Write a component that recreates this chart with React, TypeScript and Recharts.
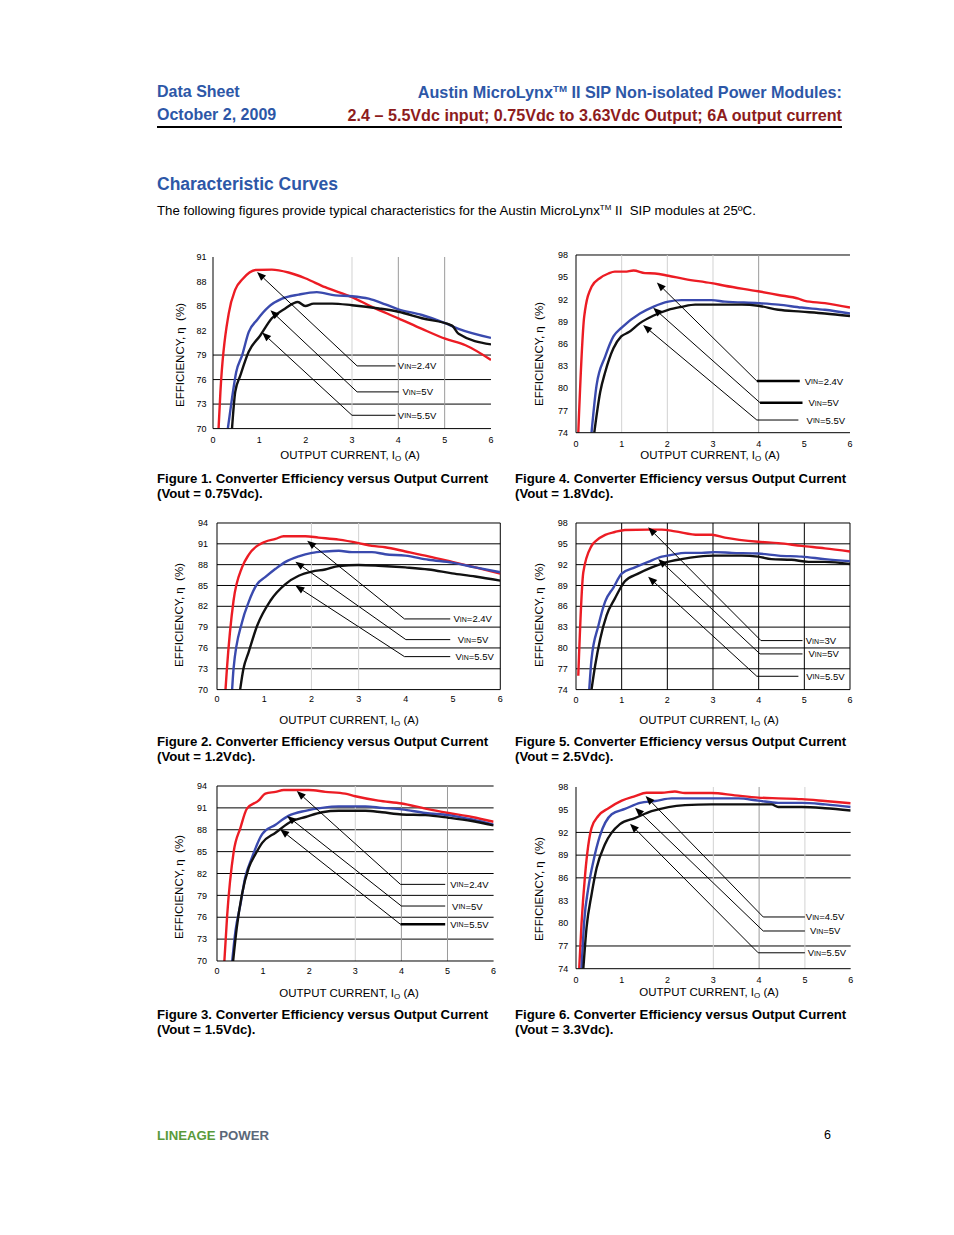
import React from 'react';
import { LineChart, Line, XAxis, YAxis, CartesianGrid, ReferenceLine, ReferenceDot } from 'recharts';

type Pt = [number, number];
interface Ann { from: Pt; tip: Pt; end: number; labelX: number; text: string; thick?: boolean }

const FONT = '"Liberation Sans", Arial, Helvetica, sans-serif';
const RED = '#ec1c24';
const BLUE = '#3a4aae';
const BLACK = '#111111';

const xTicks = [0, 1, 2, 3, 4, 5, 6];
const yTicks70to91 = [70, 73, 76, 79, 82, 85, 88, 91];
const yTicks70to94 = [70, 73, 76, 79, 82, 85, 88, 91, 94];
const yTicks74to98 = [74, 77, 80, 83, 86, 89, 92, 95, 98];

// ---------- Figure 1 (Vout = 0.75Vdc) ----------
const fig1Vin24: Pt[] = [[0.12, 70], [0.16, 74.5], [0.34, 84.1], [0.48, 87.0], [0.64, 88.3], [0.92, 89.4], [1.27, 89.45], [1.63, 89.1], [1.99, 88.4], [2.42, 87.3], [3.0, 86.1], [3.43, 84.9], [4.0, 83.5], [4.51, 82.2], [5.01, 81.0], [5.45, 80.2], [6.0, 78.4]];
const fig1Vin5: Pt[] = [[0.32, 70], [0.41, 73.7], [0.5, 76.9], [0.63, 79.0], [0.77, 81.8], [0.95, 83.3], [1.2, 84.9], [1.49, 85.9], [1.85, 86.4], [2.24, 86.7], [2.64, 86.3], [3.0, 86.2], [3.36, 85.9], [3.72, 85.2], [4.0, 84.6], [4.51, 83.9], [5.01, 82.9], [5.3, 82.2], [6.0, 81.1]];
const fig1Vin55: Pt[] = [[0.41, 70], [0.48, 74.5], [0.59, 76.5], [0.77, 79.4], [1.02, 81.4], [1.27, 83.5], [1.56, 84.7], [1.83, 85.5], [1.99, 85.0], [2.17, 85.3], [2.57, 85.3], [3.0, 85.1], [3.58, 84.7], [4.0, 84.3], [4.51, 83.5], [5.16, 82.6], [5.3, 81.6], [6.0, 80.3]];
const fig1Notes: Ann[] = [
  { from: [3.11, 77.67], tip: [0.95, 89.17], end: 3.94, labelX: 3.99, text: '2.4V' },
  { from: [3.11, 74.49], tip: [1.24, 84.48], end: 4.01, labelX: 4.09, text: '5V' },
  { from: [3.0, 71.63], tip: [1.06, 81.75], end: 3.94, labelX: 3.99, text: '5.5V' },
];

// ---------- Figure 4 (Vout = 1.8Vdc) ----------
const fig4Vin24: Pt[] = [[0.05, 74], [0.18, 89.7], [0.34, 93.7], [0.53, 94.9], [0.71, 95.5], [0.85, 95.75], [1.07, 95.75], [1.26, 95.9], [1.51, 95.55], [1.73, 95.5], [2.02, 95.2], [2.39, 94.75], [2.97, 94.2], [3.26, 93.85], [3.99, 93.1], [4.43, 92.6], [4.87, 92.1], [5.01, 91.8], [5.45, 91.5], [6.0, 90.9]];
const fig4Vin5: Pt[] = [[0.34, 74], [0.45, 80.4], [0.64, 84.3], [0.82, 87.0], [1.0, 88.2], [1.4, 90.1], [1.69, 91.0], [2.02, 91.7], [2.31, 91.9], [2.97, 91.9], [3.26, 91.7], [3.99, 91.5], [4.43, 91.3], [4.94, 90.9], [5.45, 90.6], [6.0, 90.1]];
const fig4Vin55: Pt[] = [[0.4, 74], [0.53, 79.5], [0.64, 82.2], [0.82, 85.4], [0.99, 87.0], [1.15, 87.55], [1.4, 88.8], [1.69, 89.8], [2.02, 90.6], [2.31, 91.0], [2.61, 91.3], [2.97, 91.3], [3.63, 91.3], [3.99, 91.15], [4.43, 90.6], [4.94, 90.35], [5.45, 90.1], [6.0, 89.75]];
const fig4Notes: Ann[] = [
  { from: [3.96, 80.98], tip: [1.77, 94.3], end: 4.9, labelX: 5.01, text: '2.4V', thick: true },
  { from: [4.03, 78.05], tip: [1.69, 90.88], end: 4.96, labelX: 5.09, text: '5V', thick: true },
  { from: [3.96, 75.71], tip: [1.47, 88.54], end: 4.87, labelX: 5.05, text: '5.5V' },
];

// ---------- Figure 2 (Vout = 1.2Vdc) ----------
const fig2Vin24: Pt[] = [[0.18, 70], [0.21, 73], [0.35, 82.8], [0.53, 87.6], [0.67, 89.4], [1.02, 91.3], [1.24, 91.7], [1.41, 92.1], [1.87, 92.1], [2.15, 91.9], [2.58, 91.6], [3.0, 91.1], [3.28, 90.7], [3.56, 90.5], [3.99, 89.9], [4.48, 89.2], [4.98, 88.4], [5.47, 87.6], [6.0, 86.7]];
const fig2Vin5: Pt[] = [[0.32, 70], [0.35, 73], [0.53, 79.7], [0.67, 82.6], [0.85, 85.2], [1.02, 86.2], [1.24, 87.4], [1.45, 88.4], [1.73, 89.2], [2.01, 89.7], [2.29, 89.9], [2.58, 90.0], [2.86, 89.8], [3.28, 89.8], [3.56, 89.5], [3.99, 89.3], [4.48, 88.7], [4.98, 88.3], [5.47, 87.6], [6.0, 86.9]];
const fig2Vin55: Pt[] = [[0.49, 70], [0.56, 73], [0.67, 75.4], [0.85, 79.2], [1.13, 82.8], [1.45, 85.2], [1.73, 86.4], [2.01, 87.0], [2.29, 87.3], [2.58, 87.8], [3.0, 87.95], [3.42, 87.85], [3.99, 87.6], [4.48, 87.3], [4.98, 86.75], [5.47, 86.3], [6.0, 85.7]];
const fig2Notes: Ann[] = [
  { from: [3.97, 80.18], tip: [1.91, 91.46], end: 4.94, labelX: 5.01, text: '2.4V' },
  { from: [4.0, 77.2], tip: [1.66, 88.43], end: 4.94, labelX: 5.1, text: '5V' },
  { from: [3.97, 74.75], tip: [1.66, 84.98], end: 4.94, labelX: 5.05, text: '5.5V' },
];

// ---------- Figure 5 (Vout = 2.5Vdc) ----------
const fig5Vin3: Pt[] = [[0.05, 76], [0.16, 90.9], [0.34, 94.7], [0.45, 95.5], [0.64, 96.3], [0.85, 96.7], [1.07, 97.0], [1.58, 97.05], [1.88, 97.05], [2.17, 96.8], [2.68, 96.3], [2.97, 96.3], [3.26, 95.9], [3.99, 95.3], [4.43, 95.1], [4.94, 94.7], [5.45, 94.35], [6.0, 93.9]];
const fig5Vin5: Pt[] = [[0.29, 74], [0.34, 78.4], [0.49, 83.2], [0.64, 86.7], [0.82, 88.7], [1.0, 90.7], [1.29, 91.6], [1.58, 92.4], [1.88, 93.15], [2.09, 93.4], [2.39, 93.7], [2.75, 93.7], [3.04, 93.8], [3.41, 93.7], [3.99, 93.6], [4.43, 93.3], [4.94, 93.15], [5.45, 92.8], [6.0, 92.5]];
const fig5Vin55: Pt[] = [[0.34, 74], [0.42, 77.5], [0.53, 81.3], [0.67, 84.7], [0.85, 87.1], [1.07, 89.6], [1.36, 90.7], [1.66, 91.6], [1.95, 92.3], [2.31, 92.8], [2.68, 93.15], [3.04, 93.3], [3.63, 93.3], [3.99, 93.15], [4.28, 92.8], [4.72, 92.7], [5.09, 92.4], [5.45, 92.4], [6.0, 92.1]];
const fig5Notes: Ann[] = [
  { from: [4.05, 81.06], tip: [1.58, 97.38], end: 4.96, labelX: 5.03, text: '3V' },
  { from: [4.03, 79.14], tip: [1.8, 92.82], end: 4.96, labelX: 5.09, text: '5V' },
  { from: [3.96, 75.92], tip: [1.58, 90.27], end: 4.87, labelX: 5.04, text: '5.5V' },
];

// ---------- Figure 3 (Vout = 1.5Vdc) ----------
const fig3Vin24: Pt[] = [[0.16, 70], [0.22, 76.2], [0.36, 84.9], [0.51, 88.3], [0.65, 90.9], [0.9, 92.0], [1.05, 92.95], [1.27, 93.2], [1.45, 93.45], [1.99, 93.45], [2.35, 93.2], [2.78, 92.95], [3.0, 92.6], [3.5, 92.0], [4.01, 91.6], [4.52, 90.9], [5.02, 90.3], [5.53, 89.75], [6.0, 89.1]];
const fig3Vin5: Pt[] = [[0.33, 70], [0.4, 74.1], [0.51, 77.8], [0.61, 81.4], [0.76, 84.2], [0.98, 87.4], [1.27, 88.7], [1.55, 89.9], [1.92, 90.6], [2.28, 91.0], [2.64, 91.2], [3.22, 91.2], [3.58, 91.0], [4.01, 90.8], [4.52, 90.3], [5.02, 90.0], [5.53, 89.4], [6.0, 88.7]];
const fig3Vin55: Pt[] = [[0.35, 70], [0.43, 74.6], [0.54, 79.1], [0.69, 82.8], [0.83, 84.6], [0.98, 86.2], [1.27, 87.6], [1.63, 89.2], [1.92, 89.75], [2.28, 90.4], [2.64, 90.6], [3.22, 90.6], [3.58, 90.4], [4.01, 90.1], [4.52, 90.0], [5.02, 89.65], [5.53, 89.2], [6.0, 88.6]];
const fig3Notes: Ann[] = [
  { from: [3.98, 80.51], tip: [1.73, 93.3], end: 4.95, labelX: 5.06, text: '2.4V' },
  { from: [4.0, 77.54], tip: [1.52, 89.9], end: 4.95, labelX: 5.1, text: '5V' },
  { from: [3.98, 75.03], tip: [1.37, 88.06], end: 4.95, labelX: 5.06, text: '5.5V', thick: true },
];

// ---------- Figure 6 (Vout = 3.3Vdc) ----------
const fig6Vin45: Pt[] = [[0.07, 74], [0.12, 79.9], [0.2, 86.5], [0.34, 92.6], [0.49, 94.2], [0.71, 95.2], [1.0, 96.2], [1.29, 96.8], [1.54, 97.25], [1.87, 97.25], [2.16, 97.4], [2.38, 97.2], [2.96, 97.2], [3.47, 96.9], [3.98, 96.6], [4.42, 96.5], [4.93, 96.4], [5.44, 96.15], [6.0, 95.85]];
const fig6Vin5: Pt[] = [[0.12, 74], [0.18, 80.3], [0.27, 84.7], [0.38, 88.2], [0.52, 91.5], [0.78, 94.4], [1.07, 95.1], [1.4, 95.9], [1.73, 96.15], [2.09, 96.5], [2.45, 96.5], [2.96, 96.5], [3.55, 96.5], [3.98, 96.2], [4.42, 95.9], [4.93, 95.9], [5.44, 95.7], [6.0, 95.35]];
const fig6Vin55: Pt[] = [[0.16, 74], [0.23, 79.4], [0.34, 83.8], [0.45, 87.3], [0.63, 90.4], [0.96, 93.1], [1.29, 93.9], [1.65, 94.8], [2.02, 95.35], [2.38, 95.6], [2.96, 95.7], [4.27, 95.7], [4.42, 95.35], [4.93, 95.35], [5.44, 95.2], [6.0, 94.9]];
const fig6Notes: Ann[] = [
  { from: [4.09, 80.83], tip: [1.52, 96.8], end: 5.0, labelX: 5.02, text: '4.5V' },
  { from: [4.09, 78.98], tip: [1.29, 95.27], end: 5.0, labelX: 5.11, text: '5V' },
  { from: [3.98, 76.1], tip: [1.18, 93.15], end: 5.0, labelX: 5.06, text: '5.5V' },
];

const toObj = (pts: Pt[]) => pts.map(([x, y]) => ({ x, y }));

function Arrow(props: any) {
  const { x1, y1, x2, y2 } = props;
  const dx = x2 - x1;
  const dy = y2 - y1;
  const len = Math.hypot(dx, dy) || 1;
  const ux = dx / len;
  const uy = dy / len;
  const L = 9;
  const W = 3.6;
  const bx = x2 - ux * L;
  const by = y2 - uy * L;
  const pts = `${x2},${y2} ${bx - uy * W},${by + ux * W} ${bx + uy * W},${by - ux * W}`;
  return (
    <g>
      <line x1={x1} y1={y1} x2={bx} y2={by} stroke="#000" strokeWidth={1} />
      <polygon points={pts} fill="#000" />
    </g>
  );
}

interface ChartProps {
  left: number; top: number; w: number; h: number;
  yMin: number; yMax: number; yTicks: number[];
  series: { pts: Pt[]; color: string }[];
  hGrid: number[]; vLight: number[]; vMid: number[]; vDark: number[];
  notes: Ann[];
  yGap: number; xGap: number;
}

function EffChart(p: ChartProps) {
  const ML = 45, MT = 8, MR = 16, XH = 22;
  const W = p.w + ML + MR;
  const H = p.h + MT + XH;
  const tickStyle = { fontSize: 9, fill: '#000', fontFamily: FONT };
  return (
    <div style={{ position: 'absolute', left: p.left - ML, top: p.top - MT }}>
      <LineChart width={W} height={H} margin={{ top: MT, right: MR, bottom: 0, left: 0 }}>
        {p.hGrid.length > 0 && (
          <CartesianGrid vertical={false} horizontalValues={p.hGrid} stroke="#000" strokeWidth={1} />
        )}
        {p.vLight.length > 0 && (
          <CartesianGrid horizontal={false} verticalValues={p.vLight} stroke="#d2d2d2" strokeWidth={1} />
        )}
        {p.vMid.length > 0 && (
          <CartesianGrid horizontal={false} verticalValues={p.vMid} stroke="#9a9a9a" strokeWidth={1} />
        )}
        {p.vDark.length > 0 && (
          <CartesianGrid horizontal={false} verticalValues={p.vDark} stroke="#000" strokeWidth={1} />
        )}
        <XAxis type="number" dataKey="x" domain={[0, 6]} ticks={xTicks} allowDataOverflow height={XH}
          tickLine={false} tickSize={p.xGap} tickMargin={0} interval={0}
          axisLine={{ stroke: '#000', strokeWidth: 1 }} tick={tickStyle} />
        <YAxis type="number" domain={[p.yMin, p.yMax]} ticks={p.yTicks} allowDataOverflow width={ML}
          tickLine={false} tickSize={p.yGap - 2} tickMargin={2} interval={0}
          axisLine={{ stroke: '#000', strokeWidth: 1 }} tick={tickStyle} />
        {p.series.map((s, i) => (
          <Line key={i} data={toObj(s.pts)} dataKey="y" stroke={s.color} strokeWidth={2.4}
            dot={false} activeDot={false} type="monotone" isAnimationActive={false} />
        ))}
        {p.notes.map((a, i) => (
          <React.Fragment key={'n' + i}>
            <ReferenceLine segment={[{ x: a.from[0], y: a.from[1] }, { x: a.tip[0], y: a.tip[1] }]}
              ifOverflow="visible" shape={Arrow} />
            <ReferenceLine segment={[{ x: a.from[0], y: a.from[1] }, { x: a.end, y: a.from[1] }]}
              ifOverflow="visible" stroke="#000" strokeWidth={a.thick ? 2.6 : 1} />
            <ReferenceDot x={a.labelX} y={a.from[1]} r={0} ifOverflow="visible"
              shape={(d: any) => (
                <text x={d.cx} y={d.cy} dominantBaseline="central" fontSize={9.5} fontFamily={FONT} fill="#000">
                  V<tspan fontSize={7}>IN</tspan>={a.text}
                </text>
              )} />
          </React.Fragment>
        ))}
      </LineChart>
    </div>
  );
}

const abs = (s: React.CSSProperties): React.CSSProperties => ({ position: 'absolute', whiteSpace: 'nowrap', fontFamily: FONT, ...s });

function YTitle({ cx, cy }: { cx: number; cy: number }) {
  return (
    <div style={abs({ left: cx, top: cy, fontSize: 11.5, lineHeight: '14px', transform: 'translate(-50%, -50%) rotate(-90deg)', color: '#000' })}>
      EFFICIENCY, η{'\u00a0 '}(%)
    </div>
  );
}

function XTitle({ cx, cy }: { cx: number; cy: number }) {
  return (
    <div style={abs({ left: cx, top: cy, fontSize: 11.5, lineHeight: '14px', transform: 'translate(-50%, -50%)', color: '#000' })}>
      OUTPUT CURRENT, I<span style={{ fontSize: 8, position: 'relative', top: 2 }}>O</span> (A)
    </div>
  );
}

function Caption({ x, y, n, vout }: { x: number; y: number; n: number; vout: string }) {
  return (
    <div style={abs({ left: x, top: y, fontSize: 13.2, lineHeight: '15px', fontWeight: 'bold', color: '#000' })}>
      Figure {n}. Converter Efficiency versus Output Current<br />(Vout = {vout}).
    </div>
  );
}

const Sup = ({ children }: { children: React.ReactNode }) => (
  <span style={{ fontSize: '0.6em', position: 'relative', top: '-0.6em' }}>{children}</span>
);

export default function App() {
  const headBlue = '#2d57a7';
  const headRed = '#8d1c1c';
  return (
    <div style={{ position: 'absolute', left: 0, top: 0, width: 954, height: 1235, background: '#fff', overflow: 'hidden' }}>
      <div style={abs({ left: 157, top: 83, fontSize: 16, lineHeight: '18px', fontWeight: 'bold', color: headBlue })}>Data Sheet</div>
      <div style={abs({ left: 157, top: 106, fontSize: 16, lineHeight: '18px', fontWeight: 'bold', color: headBlue })}>October 2, 2009</div>
      <div style={abs({ right: 112, top: 83, fontSize: 16.2, lineHeight: '18px', fontWeight: 'bold', color: headBlue, textAlign: 'right' })}>
        Austin MicroLynx<Sup>TM</Sup> II SIP Non-isolated Power Modules:
      </div>
      <div style={abs({ right: 112, top: 106, fontSize: 16.15, lineHeight: '18px', fontWeight: 'bold', color: headRed, textAlign: 'right' })}>
        2.4 – 5.5Vdc input; 0.75Vdc to 3.63Vdc Output; 6A output current
      </div>
      <div style={{ position: 'absolute', left: 157, top: 126, width: 685, height: 2, background: '#000' }} />
      <div style={abs({ left: 157, top: 174, fontSize: 17.5, lineHeight: '20px', fontWeight: 'bold', color: headBlue })}>Characteristic Curves</div>
      <div style={abs({ left: 157, top: 202.5, fontSize: 13.25, lineHeight: '15px', color: '#000' })}>
        The following figures provide typical characteristics for the Austin MicroLynx<Sup>TM</Sup> II{'\u00a0 '}SIP modules at 25ºC.
      </div>

      <EffChart left={212.7} top={256.7} w={278} h={171.6} yMin={70} yMax={91} yTicks={yTicks70to91}
        series={[{ pts: fig1Vin24, color: RED }, { pts: fig1Vin5, color: BLUE }, { pts: fig1Vin55, color: BLACK }]}
        hGrid={[73, 76, 79]} vLight={[3]} vMid={[4, 5]} vDark={[]} notes={fig1Notes} yGap={6.5} xGap={8.5} />
      <YTitle cx={180} cy={355} />
      <XTitle cx={350} cy={456} />
      <Caption x={157} y={470.5} n={1} vout="0.75Vdc" />

      <EffChart left={576} top={255} w={274} h={177.7} yMin={74} yMax={98} yTicks={yTicks74to98}
        series={[{ pts: fig4Vin24, color: RED }, { pts: fig4Vin5, color: BLUE }, { pts: fig4Vin55, color: BLACK }]}
        hGrid={[98]} vLight={[1, 2, 3]} vMid={[4]} vDark={[]} notes={fig4Notes} yGap={8} xGap={8} />
      <YTitle cx={538.5} cy={354} />
      <XTitle cx={710} cy={456} />
      <Caption x={515} y={470.5} n={4} vout="1.8Vdc" />

      <EffChart left={216.7} top={522.7} w={283.3} h={166.6} yMin={70} yMax={94} yTicks={yTicks70to94}
        series={[{ pts: fig2Vin24, color: RED }, { pts: fig2Vin5, color: BLUE }, { pts: fig2Vin55, color: BLACK }]}
        hGrid={[73, 76, 79, 82, 85, 88, 91, 94]} vLight={[2, 3]} vMid={[]} vDark={[6]} notes={fig2Notes} yGap={9} xGap={6.5} />
      <YTitle cx={178.5} cy={615} />
      <XTitle cx={349} cy={721} />
      <Caption x={157} y={733.5} n={2} vout="1.2Vdc" />

      <EffChart left={576} top={522.7} w={274} h={166.6} yMin={74} yMax={98} yTicks={yTicks74to98}
        series={[{ pts: fig5Vin3, color: RED }, { pts: fig5Vin5, color: BLUE }, { pts: fig5Vin55, color: BLACK }]}
        hGrid={[77, 80, 83, 86, 89, 92, 95, 98]} vLight={[]} vMid={[]} vDark={[1, 2, 3, 4, 5, 6]} notes={fig5Notes} yGap={8.3} xGap={7.5} />
      <YTitle cx={538.5} cy={615} />
      <XTitle cx={709} cy={721} />
      <Caption x={515} y={733.5} n={5} vout="2.5Vdc" />

      <EffChart left={216.7} top={786.3} w={276.6} h={175} yMin={70} yMax={94} yTicks={yTicks70to94}
        series={[{ pts: fig3Vin24, color: RED }, { pts: fig3Vin5, color: BLUE }, { pts: fig3Vin55, color: BLACK }]}
        hGrid={[73, 76, 79, 82, 85, 88, 91, 94]} vLight={[3]} vMid={[4, 5]} vDark={[]} notes={fig3Notes} yGap={10} xGap={6.5} />
      <YTitle cx={178.5} cy={887} />
      <XTitle cx={349} cy={994} />
      <Caption x={157} y={1006.5} n={3} vout="1.5Vdc" />

      <EffChart left={576} top={787.3} w={274.7} h={181.7} yMin={74} yMax={98} yTicks={yTicks74to98}
        series={[{ pts: fig6Vin45, color: RED }, { pts: fig6Vin5, color: BLUE }, { pts: fig6Vin55, color: BLACK }]}
        hGrid={[77, 86, 89, 92]} vLight={[3, 5]} vMid={[4]} vDark={[]} notes={fig6Notes} yGap={7.7} xGap={7.5} />
      <YTitle cx={538.5} cy={889} />
      <XTitle cx={709} cy={993} />
      <Caption x={515} y={1006.5} n={6} vout="3.3Vdc" />

      <div style={abs({ left: 157, top: 1127.5, fontSize: 13.2, lineHeight: '15px', fontWeight: 'bold' })}>
        <span style={{ color: '#5a9a3b' }}>LINEAGE</span> <span style={{ color: '#5b6879' }}>POWER</span>
      </div>
      <div style={abs({ left: 824, top: 1127.5, fontSize: 12.5, lineHeight: '15px', color: '#000' })}>6</div>
    </div>
  );
}
